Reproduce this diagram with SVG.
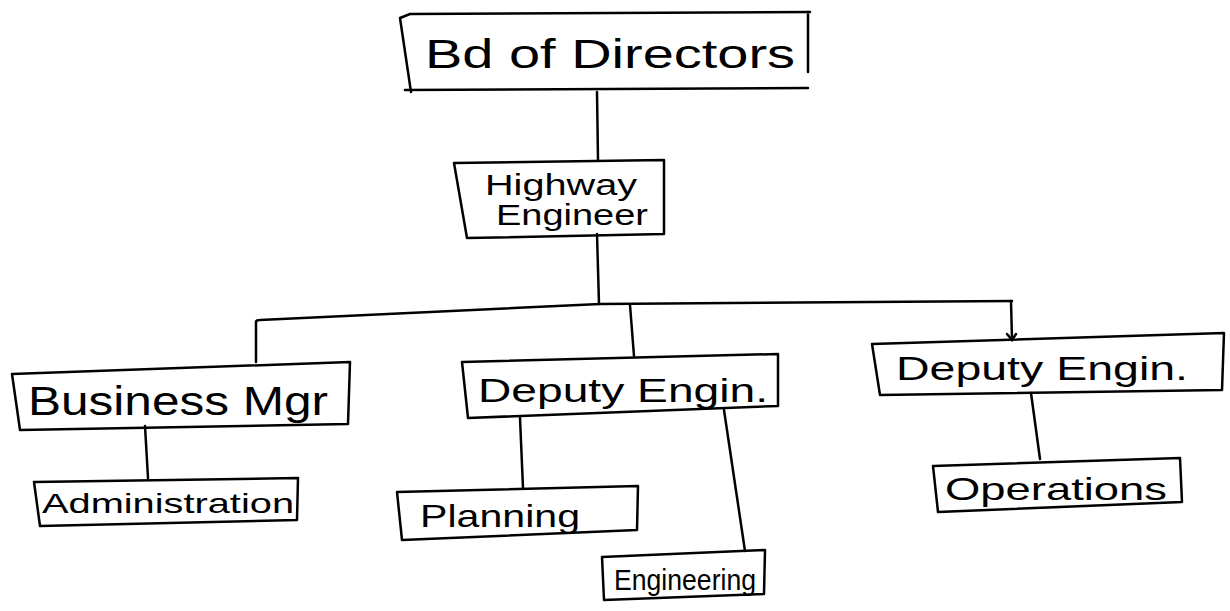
<svg xmlns="http://www.w3.org/2000/svg" width="1230" height="611" viewBox="0 0 1230 611">
<style>
.box{fill:none;stroke:#000;stroke-width:2.5;stroke-linejoin:round;stroke-linecap:round}
.ln{fill:none;stroke:#000;stroke-width:2.5;stroke-linecap:round}
.t{font-family:"Liberation Sans",Arial,sans-serif;fill:#000}
</style>
<rect width="1230" height="611" fill="#fff"/>
<g id="connectors">
<path class="ln" d="M597 92 L598 160"/>
<path class="ln" d="M597 234 L599 304"/>
<path class="ln" d="M256 362 L256 322 Q256 320 260 320 L600 304 L1012 301"/>
<path class="ln" d="M630 305 L634 356"/>
<path class="ln" d="M1011 301 L1012 340"/>
<path class="ln" d="M1007 334 L1012 340 L1016 334"/>
<path class="ln" d="M145 426 L148 478"/>
<path class="ln" d="M520 418 L523 488"/>
<path class="ln" d="M724 410 L745 551"/>
<path class="ln" d="M1031 393 L1040 459"/>
</g>
<g id="bd">
<path class="box" d="M400 18 L410 14 L810 12 M400 18 L411 92 M405 90 L808 88 M808 12 L808 72"/>
<text class="t" x="425" y="68" font-size="40" textLength="370" lengthAdjust="spacingAndGlyphs">Bd of Directors</text>
</g>
<g id="highway">
<path class="box" d="M454 163 L664 160 L664 234 L467 238 Z"/>
<text class="t" x="485" y="195" font-size="30" textLength="152" lengthAdjust="spacingAndGlyphs">Highway</text>
<text class="t" x="496" y="225" font-size="30" textLength="152" lengthAdjust="spacingAndGlyphs">Engineer</text>
</g>
<g id="business">
<path class="box" d="M12 374 L350 362 L348 424 L20 430 Z"/>
<text class="t" x="28" y="415" font-size="40" textLength="300" lengthAdjust="spacingAndGlyphs">Business Mgr</text>
</g>
<g id="admin">
<path class="box" d="M34 482 L298 478 L297 520 L40 526 Z"/>
<text class="t" x="42" y="513" font-size="28" textLength="252" lengthAdjust="spacingAndGlyphs">Administration</text>
</g>
<g id="dep1">
<path class="box" d="M462 362 L778 354 L778 406 L468 418 Z"/>
<text class="t" x="478" y="402" font-size="34" textLength="290" lengthAdjust="spacingAndGlyphs">Deputy Engin.</text>
</g>
<g id="planning">
<path class="box" d="M397 492 L638 486 L637 530 L402 540 Z"/>
<text class="t" x="420" y="527" font-size="32" textLength="160" lengthAdjust="spacingAndGlyphs">Planning</text>
</g>
<g id="engineering">
<path class="box" d="M602 557 L765 550 L764 594 L604 600 Z"/>
<text class="t" x="614" y="590" font-size="30" textLength="142" lengthAdjust="spacingAndGlyphs">Engineering</text>
</g>
<g id="dep2">
<path class="box" d="M872 344 L1224 333 L1222 390 L880 395 Z"/>
<text class="t" x="896" y="380" font-size="34" textLength="292" lengthAdjust="spacingAndGlyphs">Deputy Engin.</text>
</g>
<g id="operations">
<path class="box" d="M933 466 L1180 458 L1182 502 L938 512 Z"/>
<text class="t" x="945" y="500" font-size="32" textLength="222" lengthAdjust="spacingAndGlyphs">Operations</text>
</g>
</svg>
